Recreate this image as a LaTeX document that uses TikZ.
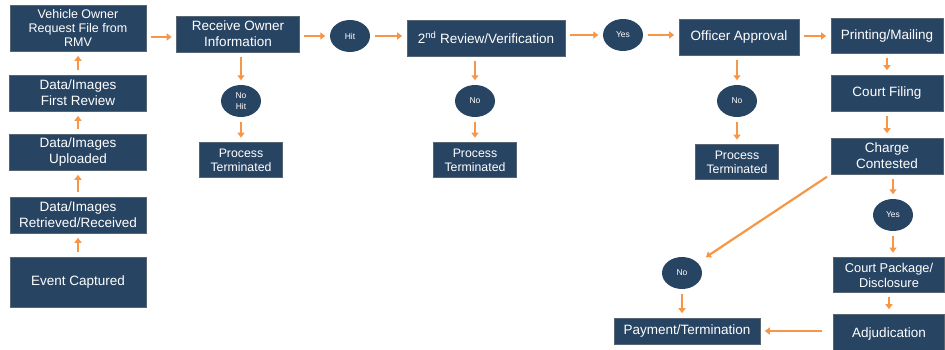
\documentclass[tikz,border=0pt]{standalone}
\usepackage{fontspec}
\setmainfont{Liberation Sans}
\usetikzlibrary{arrows.meta,shapes.geometric}
\definecolor{boxblue}{RGB}{40,68,99}
\definecolor{floworange}{RGB}{247,150,70}
\tikzset{
  stepbox/.style={
    rectangle,
    fill=boxblue,
    draw=gray!55!boxblue,
    line width=0.6pt,
    text=white,
    align=center,
    inner sep=1pt,
    font=\fontsize{13.5}{16}\selectfont
  },
  endbox/.style={
    stepbox,
    minimum width=83pt,
    minimum height=35pt,
    font=\fontsize{12.3}{14}\selectfont
  },
  decision/.style={
    ellipse,
    fill=boxblue,
    text=white,
    align=center,
    inner sep=0pt,
    minimum width=40pt,
    minimum height=32pt,
    font=\fontsize{8.5}{11}\selectfont
  },
  flow/.style={
    draw=floworange,
    line width=2.2pt,
    -{Triangle[length=5pt,width=7pt]},
    shorten <=4.5pt,
    shorten >=4.5pt
  }
}

\begin{document}
\begin{tikzpicture}[x=1pt,y=-1pt]
  \useasboundingbox (0,0) rectangle (945,350);
  % left column, bottom to top
  \node[stepbox, minimum width=136pt, minimum height=50pt] (event) at (78,282) {Event Captured};
  \node[stepbox, minimum width=136pt, minimum height=36pt] (retrieved) at (78,215) {Data/Images\\Retrieved/Received};
  \node[stepbox, minimum width=137pt, minimum height=36pt] (uploaded) at (78,152) {Data/Images\\Uploaded};
  \node[stepbox, minimum width=137pt, minimum height=36pt] (first-review) at (78,93) {Data/Images\\First Review};
  \node[stepbox, minimum width=136pt, minimum height=46pt, font=\fontsize{12.5}{14}\selectfont] (owner-request) at (78,28) {Vehicle Owner\\Request File from\\RMV};
  % top row
  \node[stepbox, minimum width=123pt, minimum height=36pt] (receive-info) at (238,34) {Receive Owner\\Information};
  \node[decision] (hit) at (350,36) {Hit};
  \node[stepbox, minimum width=158pt, minimum height=36pt] (review) at (486,38) {2\textsuperscript{nd} Review/Verification};
  \node[decision] (yes-a) at (623,35) {Yes};
  \node[stepbox, minimum width=120pt, minimum height=36pt] (approval) at (739,37) {Officer Approval};
  \node[stepbox, minimum width=112pt, minimum height=35pt] (printing) at (887,36) {Printing/Mailing};
  % dead ends
  \node[decision] (no-hit) at (241,101) {No\\Hit};
  \node[endbox] (term-a) at (241,160) {Process\\Terminated};
  \node[decision] (no-b) at (475,101) {No};
  \node[endbox] (term-b) at (475,160) {Process\\Terminated};
  \node[decision] (no-c) at (737,101) {No};
  \node[endbox] (term-c) at (737,162) {Process\\Terminated};
  % right column
  \node[stepbox, minimum width=112pt, minimum height=36pt] (filing) at (887,93) {Court Filing};
  \node[stepbox, minimum width=112pt, minimum height=36pt] (contested) at (887,156) {Charge\\Contested};
  \node[decision] (yes-b) at (893,215) {Yes};
  \node[stepbox, minimum width=111pt, minimum height=35pt, font=\fontsize{12.8}{15}\selectfont] (package) at (889,275) {Court Package/\\Disclosure};
  \node[stepbox, minimum width=111pt, minimum height=40pt] (adjudication) at (889,334) {Adjudication};
  \node[decision] (no-d) at (682,273) {No};
  \node[stepbox, minimum width=146pt, minimum height=26pt] (payment) at (687,331) {Payment/Termination};

  % connectors
  \draw[flow] (event) -- (retrieved);
  \draw[flow] (retrieved) -- (uploaded);
  \draw[flow] (uploaded) -- (first-review);
  \draw[flow] (first-review) -- (owner-request);
  \draw[flow] (owner-request.east |- 0,37) -- (receive-info.west |- 0,37);
  \draw[flow] (receive-info.east |- hit) -- (hit);
  \draw[flow] (hit) -- (review.west |- hit);
  \draw[flow] (review.east |- yes-a) -- (yes-a);
  \draw[flow] (yes-a) -- (approval.west |- yes-a);
  \draw[flow] (approval.east |- printing) -- (printing);
  \draw[flow] (receive-info.south -| no-hit) -- (no-hit);
  \draw[flow] (no-hit) -- (term-a);
  \draw[flow] (review.south -| no-b) -- (no-b);
  \draw[flow] (no-b) -- (term-b);
  \draw[flow] (approval.south -| no-c) -- (no-c);
  \draw[flow] (no-c) -- (term-c);
  \draw[flow] (printing) -- (filing);
  \draw[flow] (filing) -- (contested);
  \draw[flow] (contested.south -| yes-b) -- (yes-b);
  \draw[flow] (yes-b) -- (package.north -| yes-b);
  \draw[flow] (package) -- (adjudication);
  \draw[flow, shorten >=10pt] (contested.south west) -- (no-d);
  \draw[flow] (no-d) -- (payment.north -| no-d);
  \draw[flow, shorten <=11pt] (adjudication.west |- payment) -- (payment);
\end{tikzpicture}
\end{document}
